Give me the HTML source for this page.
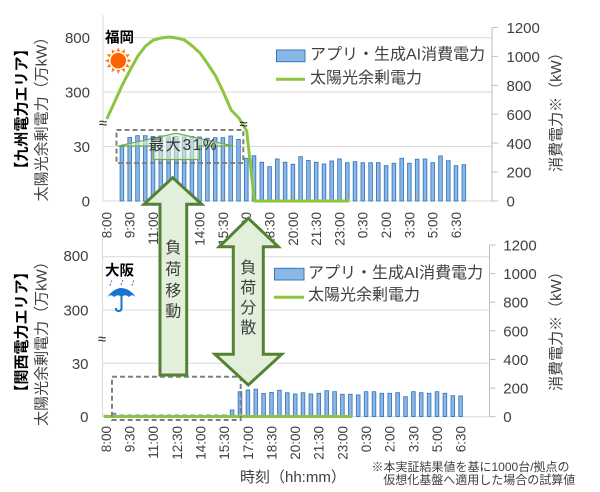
<!DOCTYPE html>
<html><head><meta charset="utf-8">
<style>
html,body{margin:0;padding:0;background:#fff;}
svg{display:block;}
text{font-family:"Liberation Sans","Noto Sans CJK JP",sans-serif;}
</style></head>
<body>
<svg width="600" height="492" viewBox="0 0 600 492" xmlns="http://www.w3.org/2000/svg">
<rect width="600" height="492" fill="#fff"/>

<!-- ================= TOP CHART ================= -->
<g stroke="#d9d9d9" stroke-width="1" fill="none">
<line x1="103" y1="37.7" x2="492" y2="37.7"/>
<line x1="103" y1="92" x2="492" y2="92"/>
<line x1="103" y1="146.5" x2="492" y2="146.5"/>
<line x1="103" y1="201" x2="492" y2="201"/>
<line x1="103" y1="15" x2="103" y2="201"/>
</g>
<g stroke="#bfbfbf" stroke-width="1">
<line x1="492" y1="27.5" x2="492" y2="201"/>
<line x1="492" y1="27.5" x2="498" y2="27.5"/>
<line x1="492" y1="56.4" x2="498" y2="56.4"/>
<line x1="492" y1="85.3" x2="498" y2="85.3"/>
<line x1="492" y1="114.2" x2="498" y2="114.2"/>
<line x1="492" y1="143.1" x2="498" y2="143.1"/>
<line x1="492" y1="172" x2="498" y2="172"/>
<line x1="492" y1="201" x2="498" y2="201"/>
</g>

<!-- top bars -->
<g fill="#8ab8e6" stroke="#3a78c0" stroke-width="0.9">
<rect x="120.1" y="146.7" width="3.6" height="54.3"/>
<rect x="127.9" y="137.5" width="3.6" height="63.5"/>
<rect x="135.7" y="135.7" width="3.6" height="65.3"/>
<rect x="143.4" y="135.7" width="3.6" height="65.3"/>
<rect x="151.2" y="136.5" width="3.6" height="64.5"/>
<rect x="159.0" y="136" width="3.6" height="65"/>
<rect x="166.8" y="137" width="3.6" height="64"/>
<rect x="174.5" y="136.5" width="3.6" height="64.5"/>
<rect x="182.3" y="137" width="3.6" height="64"/>
<rect x="190.1" y="136.5" width="3.6" height="64.5"/>
<rect x="197.8" y="137" width="3.6" height="64"/>
<rect x="205.6" y="138.3" width="3.6" height="62.7"/>
<rect x="213.4" y="137.7" width="3.6" height="63.3"/>
<rect x="221.1" y="137.7" width="3.6" height="63.3"/>
<rect x="228.9" y="136" width="3.6" height="65"/>
<rect x="236.7" y="139.5" width="3.6" height="61.5"/>
<rect x="244.5" y="158.3" width="3.6" height="42.7"/>
<rect x="252.2" y="155.7" width="3.6" height="45.3"/>
<rect x="260.0" y="162.3" width="3.6" height="38.7"/>
<rect x="267.8" y="166.7" width="3.6" height="34.3"/>
<rect x="275.5" y="159" width="3.6" height="42"/>
<rect x="283.3" y="162.3" width="3.6" height="38.7"/>
<rect x="291.1" y="164.3" width="3.6" height="36.7"/>
<rect x="298.8" y="156.7" width="3.6" height="44.3"/>
<rect x="306.6" y="160.5" width="3.6" height="40.5"/>
<rect x="314.4" y="162.3" width="3.6" height="38.7"/>
<rect x="322.2" y="164" width="3.6" height="37"/>
<rect x="329.9" y="161" width="3.6" height="40"/>
<rect x="337.7" y="159" width="3.6" height="42"/>
<rect x="345.5" y="162.7" width="3.6" height="38.3"/>
<rect x="353.2" y="161.7" width="3.6" height="39.3"/>
<rect x="361.0" y="162.7" width="3.6" height="38.3"/>
<rect x="368.8" y="162.7" width="3.6" height="38.3"/>
<rect x="376.5" y="162.7" width="3.6" height="38.3"/>
<rect x="384.3" y="165.7" width="3.6" height="35.3"/>
<rect x="392.1" y="163.3" width="3.6" height="37.7"/>
<rect x="399.9" y="158.3" width="3.6" height="42.7"/>
<rect x="407.6" y="163.3" width="3.6" height="37.7"/>
<rect x="415.4" y="159.3" width="3.6" height="41.7"/>
<rect x="423.2" y="159" width="3.6" height="42"/>
<rect x="430.9" y="162.7" width="3.6" height="38.3"/>
<rect x="438.7" y="156" width="3.6" height="45"/>
<rect x="446.5" y="160.7" width="3.6" height="40.3"/>
<rect x="454.2" y="165.7" width="3.6" height="35.3"/>
<rect x="462.0" y="164.7" width="3.6" height="36.3"/>
</g>

<!-- top green line -->
<polyline fill="none" stroke="#8cc63f" stroke-width="3" stroke-linejoin="round"
points="106.8,119 114.6,102 122.3,85 130.1,70 137.9,56 145.6,46 153.4,40 161.2,38 169,37 176.7,38 184.5,40 192.3,46 200,53 207.8,64 215.6,76 223.3,92 231.1,110 238.9,118 246.7,131 254.4,201 349.3,201"/>

<!-- top left axis labels -->
<g font-size="15" fill="#404040" text-anchor="end">
<text x="90" y="43">800</text>
<text x="90" y="97.5">300</text>
<text x="90" y="152">30</text>
<text x="90" y="206.5">0</text>
</g>
<!-- top right axis labels -->
<g font-size="15" fill="#404040">
<text x="506.5" y="33">1200</text>
<text x="506.5" y="62">1000</text>
<text x="506.5" y="91">800</text>
<text x="506.5" y="120">600</text>
<text x="506.5" y="149">400</text>
<text x="506.5" y="177.5">200</text>
<text x="506.5" y="206.5">0</text>
</g>

<!-- top x labels -->
<g font-size="13.5" fill="#404040" text-anchor="end" dominant-baseline="central">
<text transform="translate(106.8,212) rotate(-90)">8:00</text>
<text transform="translate(130.1,212) rotate(-90)">9:30</text>
<text transform="translate(153.4,212) rotate(-90)">11:00</text>
<text transform="translate(176.7,212) rotate(-90)">12:30</text>
<text transform="translate(200,212) rotate(-90)">14:00</text>
<text transform="translate(223.3,212) rotate(-90)">15:30</text>
<text transform="translate(246.7,212) rotate(-90)">17:00</text>
<text transform="translate(270,212) rotate(-90)">18:30</text>
<text transform="translate(293.3,212) rotate(-90)">20:00</text>
<text transform="translate(316.6,212) rotate(-90)">21:30</text>
<text transform="translate(339.9,212) rotate(-90)">23:00</text>
<text transform="translate(363.2,212) rotate(-90)">0:30</text>
<text transform="translate(386.5,212) rotate(-90)">2:00</text>
<text transform="translate(409.8,212) rotate(-90)">3:30</text>
<text transform="translate(433.1,212) rotate(-90)">5:00</text>
<text transform="translate(456.4,212) rotate(-90)">6:30</text>
</g>

<!-- top titles -->
<text transform="translate(22,109) rotate(-90)" font-size="15" font-weight="bold" fill="#000" text-anchor="middle" dominant-baseline="central">【九州電力エリア】</text>
<text transform="translate(42,115.5) rotate(-90)" font-size="15" fill="#404040" text-anchor="middle" dominant-baseline="central">太陽光余剰電力（万kW）</text>
<text transform="translate(556.7,108.5) rotate(-90)" font-size="15" fill="#404040" text-anchor="middle" dominant-baseline="central">消費電力※（kW）</text>

<!-- top legend -->
<rect x="276.5" y="50" width="28.5" height="11.7" fill="#8ab8e6" stroke="#3a78c0" stroke-width="1"/>
<line x1="276" y1="79.3" x2="305" y2="79.3" stroke="#8cc63f" stroke-width="3"/>
<text x="310" y="59.5" font-size="16" fill="#404040">アプリ・生成AI消費電力</text>
<text x="310" y="83" font-size="16" fill="#404040">太陽光余剰電力</text>

<!-- Fukuoka + sun -->
<text x="105" y="42.5" font-size="14.5" font-weight="bold" fill="#000">福岡</text>
<g transform="translate(118.3,60.7)" fill="#ff7a00">
<polygon points="-1.8,-9.3 1.8,-9.3 0,-13.3"/>
<polygon points="-1.8,-9.3 1.8,-9.3 0,-13.3" transform="rotate(30)"/>
<polygon points="-1.8,-9.3 1.8,-9.3 0,-13.3" transform="rotate(60)"/>
<polygon points="-1.8,-9.3 1.8,-9.3 0,-13.3" transform="rotate(90)"/>
<polygon points="-1.8,-9.3 1.8,-9.3 0,-13.3" transform="rotate(120)"/>
<polygon points="-1.8,-9.3 1.8,-9.3 0,-13.3" transform="rotate(150)"/>
<polygon points="-1.8,-9.3 1.8,-9.3 0,-13.3" transform="rotate(180)"/>
<polygon points="-1.8,-9.3 1.8,-9.3 0,-13.3" transform="rotate(210)"/>
<polygon points="-1.8,-9.3 1.8,-9.3 0,-13.3" transform="rotate(240)"/>
<polygon points="-1.8,-9.3 1.8,-9.3 0,-13.3" transform="rotate(270)"/>
<polygon points="-1.8,-9.3 1.8,-9.3 0,-13.3" transform="rotate(300)"/>
<polygon points="-1.8,-9.3 1.8,-9.3 0,-13.3" transform="rotate(330)"/>
<circle r="7.8" fill="#ff6200"/>
</g>

<!-- break marks top -->
<text x="103" y="128" font-size="15" fill="#222" text-anchor="middle">≈</text>
<text x="243.5" y="129" font-size="15" fill="#222" text-anchor="middle">≈</text>

<!-- top dashed box & 31% arrow -->
<rect x="116.5" y="130" width="126.8" height="33" fill="none" stroke="#808080" stroke-width="2" stroke-dasharray="5,3"/>
<polygon points="118.3,146 176,133.3 233.3,146 199.3,146 199.3,159.5 153.3,159.5 153.3,146" fill="#e2efda" fill-opacity="0.6" stroke="#70ad47" stroke-width="1.2"/>
<text x="182.5" y="150" font-size="15.5" fill="#333" text-anchor="middle" textLength="68" lengthAdjust="spacing">最大31%</text>

<!-- ================= BOTTOM CHART ================= -->
<g stroke="#d9d9d9" stroke-width="1" fill="none">
<line x1="102.5" y1="256.7" x2="489.5" y2="256.7"/>
<line x1="102.5" y1="310" x2="489.5" y2="310"/>
<line x1="102.5" y1="363.3" x2="489.5" y2="363.3"/>
<line x1="102.5" y1="416.7" x2="489.5" y2="416.7"/>
<line x1="102.5" y1="237" x2="102.5" y2="416.7"/>
</g>
<g stroke="#bfbfbf" stroke-width="1">
<line x1="489.5" y1="245" x2="489.5" y2="416.7"/>
<line x1="489.5" y1="245" x2="495.5" y2="245"/>
<line x1="489.5" y1="273.6" x2="495.5" y2="273.6"/>
<line x1="489.5" y1="302.2" x2="495.5" y2="302.2"/>
<line x1="489.5" y1="330.8" x2="495.5" y2="330.8"/>
<line x1="489.5" y1="359.5" x2="495.5" y2="359.5"/>
<line x1="489.5" y1="388.1" x2="495.5" y2="388.1"/>
<line x1="489.5" y1="416.7" x2="495.5" y2="416.7"/>
</g>

<!-- bottom bars -->
<g fill="#8ab8e6" stroke="#3a78c0" stroke-width="0.9">
<rect x="104.2" y="415.3" width="3.6" height="1.2"/>
<rect x="112.1" y="413.3" width="3.6" height="3.2"/>
<rect x="120.0" y="415" width="3.6" height="1.5"/>
<rect x="127.9" y="415" width="3.6" height="1.5"/>
<rect x="135.8" y="415" width="3.6" height="1.5"/>
<rect x="143.6" y="415" width="3.6" height="1.5"/>
<rect x="151.5" y="415" width="3.6" height="1.5"/>
<rect x="159.4" y="415" width="3.6" height="1.5"/>
<rect x="167.3" y="415" width="3.6" height="1.5"/>
<rect x="175.2" y="415" width="3.6" height="1.5"/>
<rect x="183.0" y="415" width="3.6" height="1.5"/>
<rect x="190.9" y="415" width="3.6" height="1.5"/>
<rect x="198.8" y="415" width="3.6" height="1.5"/>
<rect x="206.7" y="415" width="3.6" height="1.5"/>
<rect x="214.6" y="415" width="3.6" height="1.5"/>
<rect x="222.4" y="415" width="3.6" height="1.5"/>
<rect x="230.3" y="410" width="3.6" height="6.5"/>
<rect x="238.2" y="391.7" width="3.6" height="24.8"/>
<rect x="246.1" y="390" width="3.6" height="26.5"/>
<rect x="254.0" y="389.2" width="3.6" height="27.3"/>
<rect x="261.8" y="393.5" width="3.6" height="23"/>
<rect x="269.7" y="392.5" width="3.6" height="24"/>
<rect x="277.6" y="390.3" width="3.6" height="26.2"/>
<rect x="285.5" y="392.8" width="3.6" height="23.7"/>
<rect x="293.4" y="394" width="3.6" height="22.5"/>
<rect x="301.2" y="392.7" width="3.6" height="23.8"/>
<rect x="309.1" y="394" width="3.6" height="22.5"/>
<rect x="317.0" y="393.3" width="3.6" height="23.2"/>
<rect x="324.9" y="390.7" width="3.6" height="25.8"/>
<rect x="332.8" y="391.7" width="3.6" height="24.8"/>
<rect x="340.6" y="394.3" width="3.6" height="22.2"/>
<rect x="348.5" y="394.3" width="3.6" height="22.2"/>
<rect x="356.4" y="395" width="3.6" height="21.5"/>
<rect x="364.3" y="391.7" width="3.6" height="24.8"/>
<rect x="372.2" y="391.7" width="3.6" height="24.8"/>
<rect x="380.0" y="393.3" width="3.6" height="23.2"/>
<rect x="387.9" y="393.3" width="3.6" height="23.2"/>
<rect x="395.8" y="392.7" width="3.6" height="23.8"/>
<rect x="403.7" y="396.7" width="3.6" height="19.8"/>
<rect x="411.6" y="391.7" width="3.6" height="24.8"/>
<rect x="419.4" y="392.7" width="3.6" height="23.8"/>
<rect x="427.3" y="393.3" width="3.6" height="23.2"/>
<rect x="435.2" y="391.7" width="3.6" height="24.8"/>
<rect x="443.1" y="393.3" width="3.6" height="23.2"/>
<rect x="451.0" y="395.7" width="3.6" height="20.8"/>
<rect x="458.8" y="396" width="3.6" height="20.5"/>
</g>

<!-- bottom green line -->
<line x1="104" y1="416.5" x2="352" y2="416.5" stroke="#8cc63f" stroke-width="3"/>

<!-- bottom left axis labels -->
<g font-size="15" fill="#404040" text-anchor="end">
<text x="88.5" y="261">800</text>
<text x="88.5" y="315.5">300</text>
<text x="88.5" y="368.8">30</text>
<text x="88.5" y="422">0</text>
</g>
<g font-size="15" fill="#404040">
<text x="503.3" y="250.5">1200</text>
<text x="503.3" y="279">1000</text>
<text x="503.3" y="307.7">800</text>
<text x="503.3" y="336.3">600</text>
<text x="503.3" y="365">400</text>
<text x="503.3" y="393.6">200</text>
<text x="503.3" y="422.2">0</text>
</g>

<!-- bottom x labels -->
<g font-size="13.5" fill="#404040" text-anchor="end" dominant-baseline="central">
<text transform="translate(106.4,426) rotate(-90)">8:00</text>
<text transform="translate(130.1,426) rotate(-90)">9:30</text>
<text transform="translate(153.7,426) rotate(-90)">11:00</text>
<text transform="translate(177.4,426) rotate(-90)">12:30</text>
<text transform="translate(201,426) rotate(-90)">14:00</text>
<text transform="translate(224.6,426) rotate(-90)">15:30</text>
<text transform="translate(248.3,426) rotate(-90)">17:00</text>
<text transform="translate(271.9,426) rotate(-90)">18:30</text>
<text transform="translate(295.6,426) rotate(-90)">20:00</text>
<text transform="translate(319.2,426) rotate(-90)">21:30</text>
<text transform="translate(342.8,426) rotate(-90)">23:00</text>
<text transform="translate(366.5,426) rotate(-90)">0:30</text>
<text transform="translate(390.1,426) rotate(-90)">2:00</text>
<text transform="translate(413.8,426) rotate(-90)">3:30</text>
<text transform="translate(437.4,426) rotate(-90)">5:00</text>
<text transform="translate(461,426) rotate(-90)">6:30</text>
</g>

<!-- bottom titles -->
<text transform="translate(22,332) rotate(-90)" font-size="15" font-weight="bold" fill="#000" text-anchor="middle" dominant-baseline="central">【関西電力エリア】</text>
<text transform="translate(42,340) rotate(-90)" font-size="15" fill="#404040" text-anchor="middle" dominant-baseline="central">太陽光余剰電力（万kW）</text>
<text transform="translate(556.7,327.5) rotate(-90)" font-size="15" fill="#404040" text-anchor="middle" dominant-baseline="central">消費電力※（kW）</text>

<!-- bottom legend -->
<rect x="274.5" y="268.3" width="29.5" height="11.7" fill="#8ab8e6" stroke="#3a78c0" stroke-width="1"/>
<line x1="274" y1="297.3" x2="304" y2="297.3" stroke="#8cc63f" stroke-width="3"/>
<text x="308" y="278" font-size="16" fill="#404040">アプリ・生成AI消費電力</text>
<text x="308" y="300" font-size="16" fill="#404040">太陽光余剰電力</text>

<!-- Osaka + umbrella -->
<text x="105" y="275.5" font-size="14.5" font-weight="bold" fill="#000">大阪</text>
<g>
<line x1="110" y1="285.5" x2="111.8" y2="280.5" stroke="#4a90e2" stroke-width="1.3" stroke-dasharray="2,1.5"/>
<line x1="121" y1="285" x2="122.8" y2="280" stroke="#4a90e2" stroke-width="1.3" stroke-dasharray="2,1.5"/>
<line x1="132" y1="285.5" x2="133.8" y2="280.5" stroke="#4a90e2" stroke-width="1.3" stroke-dasharray="2,1.5"/>
<path d="M107 297 Q 121.5 279 136 297 Q 132.3 293.5 128.7 297 Q 125.1 293.5 121.5 297 Q 117.9 293.5 114.3 297 Q 110.7 293.5 107 297 Z" fill="#1a73d0"/>
<path d="M121.5 296 V308 Q121.5 311 118.7 311 Q115.8 311 115.8 308" fill="none" stroke="#1a73d0" stroke-width="2"/>
</g>

<!-- break mark bottom -->
<text x="102" y="344" font-size="15" fill="#222" text-anchor="middle">≈</text>

<!-- bottom dashed box -->
<rect x="112" y="376.7" width="128.7" height="43.3" fill="none" stroke="#808080" stroke-width="2" stroke-dasharray="5,3"/>

<!-- axis title + footnote -->
<text x="240" y="482" font-size="15" fill="#404040">時刻（hh:mm）</text>
<text x="371.5" y="471" font-size="12" fill="#404040">※本実証結果値を基に1000台/拠点の</text>
<text x="383.3" y="484" font-size="12" fill="#404040">仮想化基盤へ適用した場合の試算値</text>

<!-- ================= BIG ARROWS ================= -->
<polygon points="172.7,177.7 201.7,204.3 186.7,204.3 186.7,375 160,375 160,204.3 144,204.3" fill="#e2efda" stroke="#548235" stroke-width="3" stroke-linejoin="miter"/>
<g font-size="16" fill="#404040" text-anchor="middle" dominant-baseline="central">
<text x="173.3" y="248.3">負</text>
<text x="173.3" y="270">荷</text>
<text x="173.3" y="291.7">移</text>
<text x="173.3" y="312">動</text>
</g>
<polygon points="248.3,218.3 278.3,246.7 263.3,246.7 263.3,354.3 281.7,354.3 248.3,385 215,354.3 233.3,354.3 233.3,246.7 219.3,246.7" fill="#e2efda" stroke="#548235" stroke-width="3" stroke-linejoin="miter"/>
<g font-size="16" fill="#404040" text-anchor="middle" dominant-baseline="central">
<text x="248.3" y="268.3">負</text>
<text x="248.3" y="288.3">荷</text>
<text x="248.3" y="308.3">分</text>
<text x="248.3" y="328.3">散</text>
</g>
</svg>
</body></html>
